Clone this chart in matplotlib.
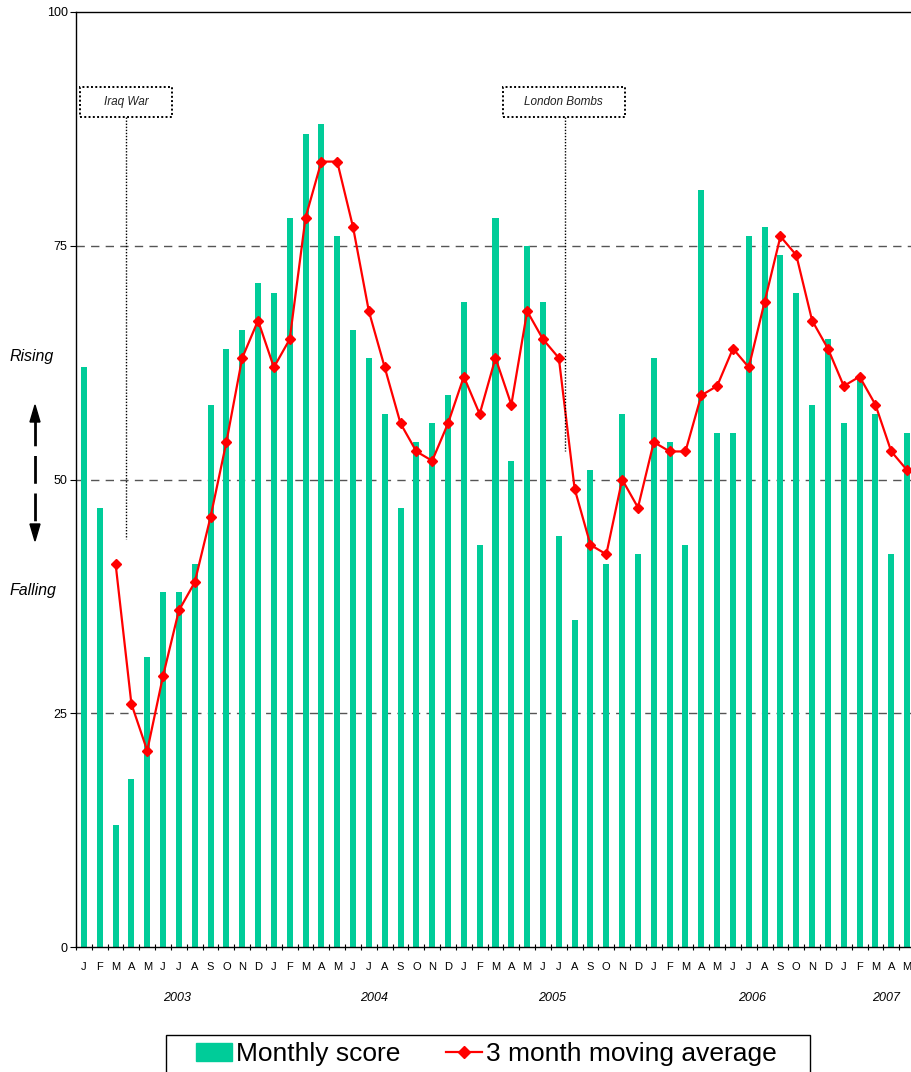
import numpy as np
import matplotlib
matplotlib.use("Agg")
import matplotlib.pyplot as plt
from matplotlib.lines import Line2D
from matplotlib.patches import Rectangle, Polygon

plt.rcParams["font.family"] = ["Liberation Sans", "DejaVu Sans"]

# ---- data ----
months = list("JFMAMJJASOND") * 4 + list("JFMAM")
years = ["2003", "2004", "2005", "2006", "2007"]
year_pos = [5.9, 18.3, 29.6, 42.2, 50.7]

monthly_score = [
    62, 47, 13, 18, 31, 38, 38, 41, 58, 64, 66, 71,   # 2003
    70, 78, 87, 88, 76, 66, 63, 57, 47, 54, 56, 59,   # 2004
    69, 43, 78, 52, 75, 69, 44, 35, 51, 41, 57, 42,   # 2005
    63, 54, 43, 81, 55, 55, 76, 77, 74, 70, 58, 65,   # 2006
    56, 61, 57, 42, 55,                               # 2007
]
moving_avg = [
    None, None, 41, 26, 21, 29, 36, 39, 46, 54, 63, 67,
    62, 65, 78, 84, 84, 77, 68, 62, 56, 53, 52, 56,
    61, 57, 63, 58, 68, 65, 63, 49, 43, 42, 50, 47,
    54, 53, 53, 59, 60, 64, 62, 69, 76, 74, 67, 64,
    60, 61, 58, 53, 51,
]
events = ["Iraq War", "London Bombs"]
event_x = [2.65, 30.4]
event_end = [43.6, 53]

W, H = 912, 1072
fig = plt.figure(figsize=(W / 100, H / 100), dpi=100)
ax = fig.add_axes([76 / W, 1 - 947 / H, (915 - 76) / W, 935 / H])

x = np.arange(len(monthly_score))
ax.bar(x, monthly_score, width=0.38, color="#00CC99", zorder=2)
ma = np.array([np.nan if v is None else v for v in moving_avg], dtype=float)
ax.plot(x, ma, color="#FF0000", lw=1.6, marker="D", markersize=5.5, zorder=4)

ax.set_xlim(-0.5, len(x) - 0.5)
ax.set_ylim(0, 100)

for yv in [25, 50, 75]:
    ax.axhline(yv, color="#555555", lw=1, dashes=(6, 4.5), zorder=1)

ax.set_yticks([0, 25, 50, 75, 100])
ax.tick_params(axis="y", labelsize=9, length=4, width=0.8, pad=2)
ax.set_xticks(x)
ax.set_xticklabels(months, fontsize=8)
ax.tick_params(axis="x", which="major", length=0, pad=11)
ax.set_xticks(np.arange(-0.5, len(x), 1.0), minor=True)
ax.tick_params(axis="x", which="minor", length=4, width=0.8, direction="inout")

for s in ["left", "bottom", "top"]:
    ax.spines[s].set_linewidth(1)
    ax.spines[s].set_color("black")
ax.spines["right"].set_visible(False)

for yr, p in zip(years, year_pos):
    ax.text(p, -0.0545, yr, transform=ax.get_xaxis_transform(), ha="center",
            va="center", fontsize=9, style="italic")

# event boxes and dotted drop lines
box_w = [5.8, 7.7]
for name, ex, ey, bw in zip(events, event_x, event_end, box_w):
    x0 = ex - bw / 2 - (0.0 if name == "Iraq War" else 0.1)
    ax.add_patch(Rectangle((x0, 88.8), bw, 3.2, fill=False, ec="black",
                           lw=1.4, ls=(0, (1, 1.2)), zorder=5, clip_on=False))
    ax.text(x0 + bw / 2, 90.4, name, ha="center", va="center", fontsize=8.5,
            style="italic", color="#222222", zorder=6)
    ax.plot([ex, ex], [88.8, ey], color="black", lw=1.0, ls=(0, (1, 1.2)), zorder=5)

# Rising / Falling indicator
fig.text(10 / W, 1 - 357 / H, "Rising", fontsize=11.5, style="italic", va="center")
fig.text(10 / W, 1 - 591 / H, "Falling", fontsize=11.5, style="italic", va="center")
fig.add_artist(Line2D([35 / W, 35 / W], [1 - 418 / H, 1 - 528 / H],
                      color="black", lw=2, dashes=(10, 3.5)))
fig.add_artist(Polygon([[35 / W, 1 - 405 / H], [30 / W, 1 - 422 / H], [40 / W, 1 - 422 / H]],
                       closed=True, color="black", transform=fig.transFigure))
fig.add_artist(Polygon([[35 / W, 1 - 541 / H], [30 / W, 1 - 524 / H], [40 / W, 1 - 524 / H]],
                       closed=True, color="black", transform=fig.transFigure))

# legend
handles = [Rectangle((0, 0), 1, 1, color="#00CC99"),
           Line2D([], [], color="#FF0000", lw=1.6, marker="D", markersize=6)]
fig.legend(handles, ["Monthly score", "3 month moving average"], ncol=2,
           loc="upper left", bbox_to_anchor=(196 / W, 1 - 1042 / H), frameon=False,
           fontsize=19, handlelength=1.35, handletextpad=0.15, columnspacing=1.75,
           borderpad=0, borderaxespad=0)
fig.add_artist(Rectangle((166 / W, 1 - 1100 / H), 644 / W, 65 / H, fill=False,
                         ec="black", lw=1, transform=fig.transFigure))

fig.savefig("out.png", dpi=100)
